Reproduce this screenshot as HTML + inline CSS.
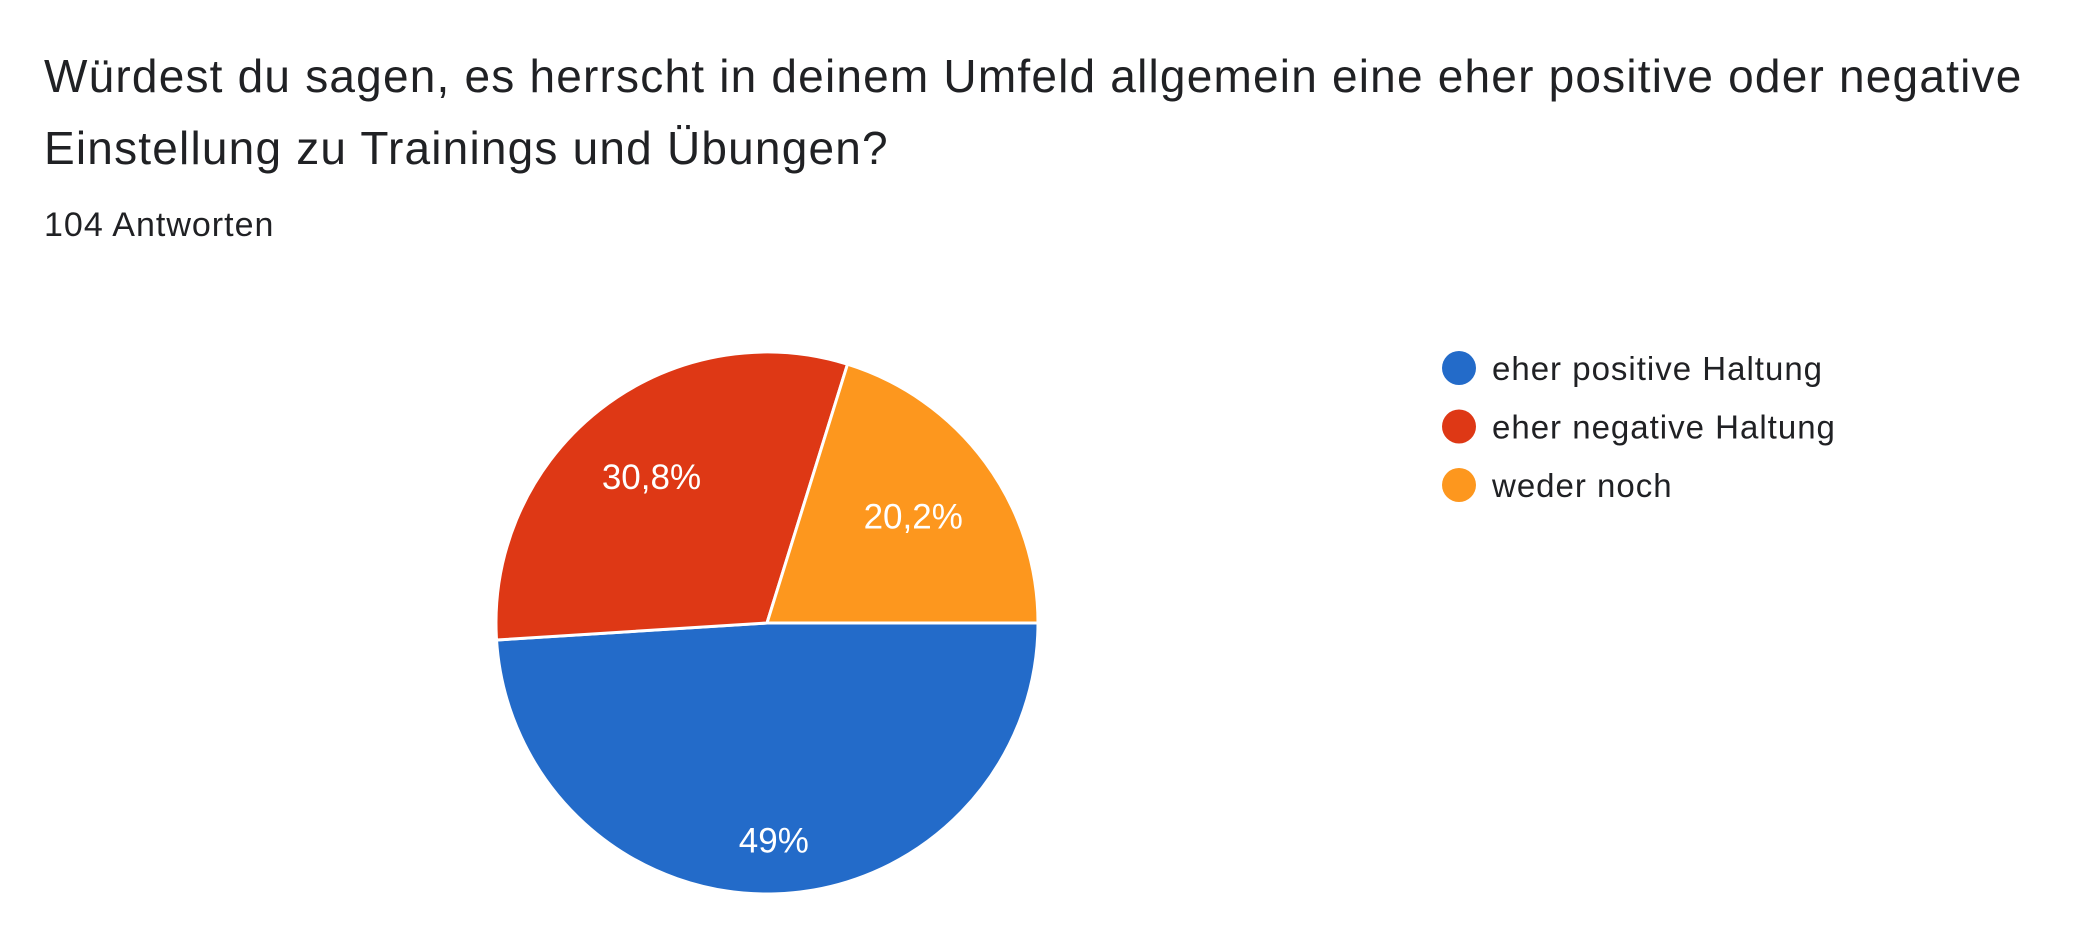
<!DOCTYPE html>
<html><head><meta charset="utf-8"><style>
body{margin:0;width:2080px;height:944px;background:#fff;overflow:hidden;font-family:"Liberation Sans",Arial,sans-serif;}
.t{position:absolute;left:44px;color:#202124;font-size:46px;letter-spacing:1.2px;white-space:nowrap;}
</style></head><body>
<div class="t" style="top:40px;line-height:72px;">Würdest du sagen, es herrscht in deinem Umfeld allgemein eine eher positive oder negative<br>Einstellung zu Trainings und Übungen?</div>
<div class="t" style="top:206px;font-size:34px;letter-spacing:1px;">104 Antworten</div>
<svg id="c" width="2080" height="944" style="position:absolute;left:0;top:0"></svg>
<script>
const categories=["eher positive Haltung","eher negative Haltung","weder noch"];
const values=[49,30.8,20.2];
const labels=["49%","30,8%","20,2%"];
const colors=["#236bc9","#de3815","#fd971e"];
const labelRadius=[0.8,0.69,0.67];
const svg=document.getElementById('c');const NS='http://www.w3.org/2000/svg';
const cx=767,cy=623,r=271;
const total=values.reduce((a,b)=>a+b,0);
let a0=0;
values.forEach((v,i)=>{
 const a1=a0+v/total*2*Math.PI;
 const p=document.createElementNS(NS,'path');
 const x0=cx+r*Math.cos(a0),y0=cy+r*Math.sin(a0),x1=cx+r*Math.cos(a1),y1=cy+r*Math.sin(a1);
 p.setAttribute('d',`M${cx},${cy}L${x0},${y0}A${r},${r} 0 ${a1-a0>Math.PI?1:0} 1 ${x1},${y1}Z`);
 p.setAttribute('fill',colors[i]);p.setAttribute('stroke','#fff');p.setAttribute('stroke-width','3');
 
 
 svg.appendChild(p);
 const m=(a0+a1)/2;
 const t=document.createElementNS(NS,'text');
 t.setAttribute('x',cx+labelRadius[i]*r*Math.cos(m));t.setAttribute('y',cy+labelRadius[i]*r*Math.sin(m)+13);
 t.setAttribute('text-anchor','middle');t.setAttribute('fill','#fff');t.setAttribute('font-size','35');
 t.setAttribute('font-family','Liberation Sans, Arial, sans-serif');
 t.textContent=labels[i];
 
 
 svg.appendChild(t);
 a0=a1;
});
categories.forEach((c,i)=>{
 const y=368+i*58.5;
 const d=document.createElementNS(NS,'circle');
 d.setAttribute('cx',1459);d.setAttribute('cy',y);d.setAttribute('r',17);d.setAttribute('fill',colors[i]);
 
 
 svg.appendChild(d);
 const t=document.createElementNS(NS,'text');
 t.setAttribute('x',1492);t.setAttribute('y',y+12);t.setAttribute('font-size','33');t.setAttribute('fill','#202124');
 t.setAttribute('letter-spacing','1');
 t.setAttribute('font-family','Liberation Sans, Arial, sans-serif');
 t.textContent=c;
 
 
 svg.appendChild(t);
});
</script>
</body></html>
